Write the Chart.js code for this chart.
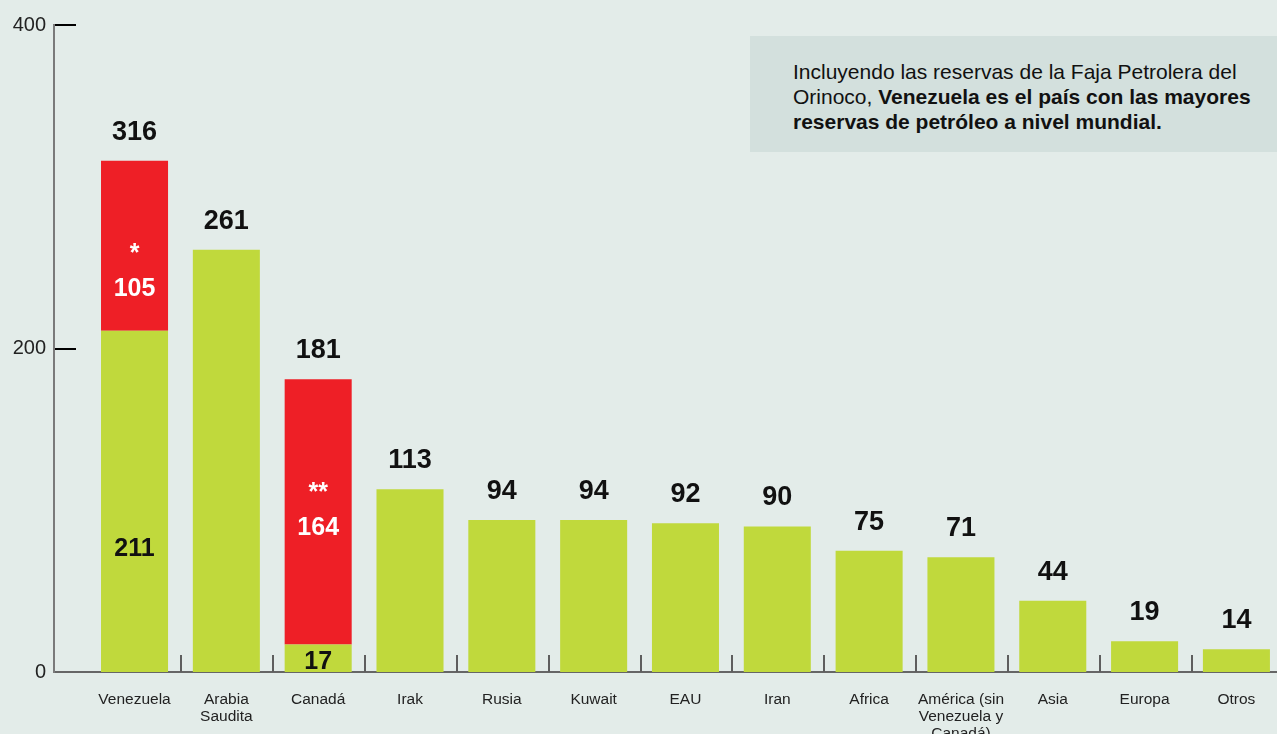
<!DOCTYPE html>
<html>
<head>
<meta charset="utf-8">
<script src="https://cdn.jsdelivr.net/npm/chart.js@4.4.1/dist/chart.umd.min.js"></script>
<style>
  html, body { margin: 0; padding: 0; background: #e3ece9; overflow: hidden; }
  #wrap { position: relative; width: 1277px; height: 734px; }
  #nota {
    position: absolute; left: 750px; top: 36px; width: 527px; height: 116px;
    box-sizing: border-box; padding: 23px 0 0 43px;
    background: #d3e0dd; color: #111;
    font-family: "Liberation Sans", Arial, sans-serif; font-size: 21px; line-height: 25px;
    white-space: nowrap;
  }
</style>
</head>
<body>
<div id="wrap">
  <canvas id="chart" width="1277" height="734"></canvas>
  <div id="nota">Incluyendo las reservas de la Faja Petrolera del<br>Orinoco, <b>Venezuela es el país con las mayores<br>reservas de petróleo a nivel mundial.</b></div>
</div>
<script>
// Reservas probadas de petróleo (miles de millones de barriles)
const categorias = ['Venezuela', ['Arabia', 'Saudita'], 'Canadá', 'Irak', 'Rusia', 'Kuwait', 'EAU', 'Iran',
    'Africa', ['América (sin', 'Venezuela y', 'Canadá)'], 'Asia', 'Europa', 'Otros'];
const reservasBase = [211, 261, 17, 113, 94, 94, 92, 90, 75, 71, 44, 19, 14];
const reservasExtra = [105, null, 164, null, null, null, null, null, null, null, null, null, null];
const marcas = ['*', '', '**', '', '', '', '', '', '', '', '', '', ''];
const ticksY = [0, 200, 400];

const verde = '#c0d93c';
const rojo = '#ee1f26';
const fuente = '"Liberation Sans", Arial, sans-serif';

// Marcas de los ejes (hacia dentro) y etiquetas de valores.
const extras = {
    id: 'extras',
    afterDatasetsDraw(chart) {
        const { ctx, scales: { x, y } } = chart;
        const y0 = y.getPixelForValue(0);
        ctx.save();
        ctx.lineWidth = 2;
        ctx.strokeStyle = '#5e5e5e';
        for (let i = 0; i < categorias.length - 1; i++) {
            const px = Math.round(x.getPixelForValue(i + 0.5)) + 1;
            ctx.beginPath();
            ctx.moveTo(px, y0);
            ctx.lineTo(px, y0 - 17);
            ctx.stroke();
        }
        ctx.strokeStyle = '#000';
        ticksY.slice(1).forEach(v => {
            const py = Math.round(y.getPixelForValue(v));
            ctx.beginPath();
            ctx.moveTo(x.left + 1, py);
            ctx.lineTo(x.left + 22, py);
            ctx.stroke();
        });

        ctx.textAlign = 'center';
        const base = chart.getDatasetMeta(0).data;
        reservasBase.forEach((v, i) => {
            const total = v + (reservasExtra[i] || 0);
            const cx = base[i].x;
            const top = y.getPixelForValue(total);
            ctx.fillStyle = '#111';
            ctx.font = 'bold 27px ' + fuente;
            ctx.textBaseline = 'alphabetic';
            ctx.fillText(total, cx, top - 21);

            if (reservasExtra[i]) {
                ctx.textBaseline = 'middle';
                const gTop = y.getPixelForValue(v);
                const gMid = (gTop + y0) / 2 + (y0 - gTop) * 0.14;
                ctx.font = 'bold 25px ' + fuente;
                ctx.fillText(v, cx, gMid);
                const rMid = top + 93 + (gTop - top) * 0.21;
                ctx.fillStyle = '#fff';
                ctx.fillText(reservasExtra[i], cx, rMid);
                ctx.fillText(marcas[i], cx, rMid - 35);
            }
        });
        ctx.restore();
    }
};

new Chart(document.getElementById('chart'), {
    type: 'bar',
    data: {
        datasets: [
            {
                label: 'Reservas',
                data: reservasBase.map((v, i) => ({ x: i, y: v })),
                backgroundColor: verde
            },
            {
                label: 'Reservas adicionales',
                data: reservasExtra.map((v, i) => ({ x: i, y: v })),
                backgroundColor: rojo
            }
        ]
    },
    options: {
        responsive: false,
        animation: false,
        layout: { padding: { top: 25, right: 0, left: 0, bottom: 0 } },
        categoryPercentage: 1,
        barPercentage: 0.73,
        plugins: { legend: { display: false }, tooltip: { enabled: false } },
        scales: {
            x: {
                type: 'linear',
                stacked: true,
                offset: false,
                min: -0.877,
                max: 12.442,
                afterBuildTicks: s => { s.ticks = categorias.map((c, i) => ({ value: i })); },
                afterFit: s => { s.height = 62; },
                grid: { display: false },
                border: { display: true, color: '#666', width: 2 },
                ticks: {
                    autoSkip: false,
                    maxRotation: 0,
                    padding: 11,
                    color: '#222',
                    font: { family: fuente, size: 15.5, lineHeight: 1.1 },
                    callback: v => categorias[v]
                }
            },
            y: {
                stacked: true,
                min: 0,
                max: 400,
                afterBuildTicks: s => { s.ticks = ticksY.map(v => ({ value: v })); },
                afterFit: s => { s.width = 54; },
                grid: { display: false },
                border: { display: true, color: '#7a7a7a', width: 2 },
                ticks: {
                    padding: 0,
                    color: '#222',
                    font: { family: fuente, size: 20 }
                }
            }
        }
    },
    plugins: [extras]
});
</script>
</body>
</html>
